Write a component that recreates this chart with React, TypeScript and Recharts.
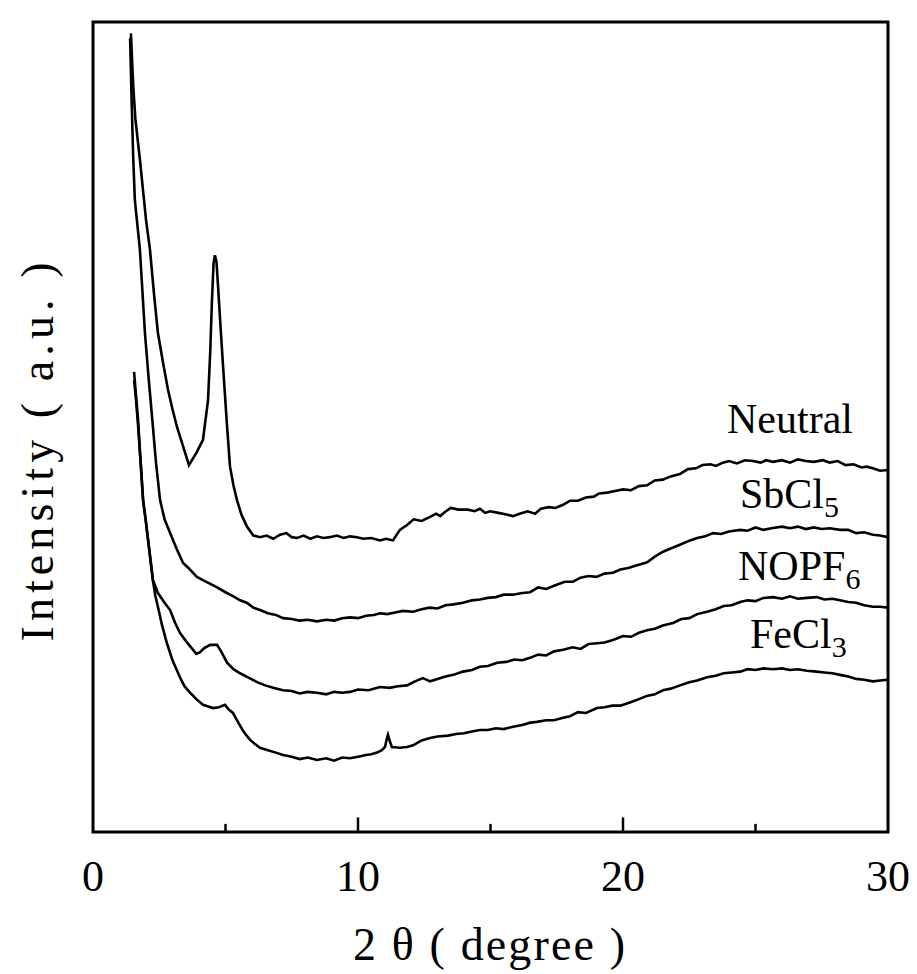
import React from "react";
import {
  LineChart,
  Line,
  XAxis,
  YAxis,
  ReferenceArea,
  ReferenceLine,
  Customized,
} from "recharts";

// 2θ (degree), intensity (a.u., offset stacked)
const neutral: [number, number][] = [
  [1.43, 98.6], [1.52, 92], [1.6, 88], [1.77, 83.0], [2.0, 75.6], [2.15, 71.9], [2.3, 66.5], [2.45, 61.6],
  [2.65, 57.8], [2.83, 54.6], [3.0, 52.2], [3.17, 50.0], [3.4, 47.6], [3.62, 45.3], [3.9, 46.8], [4.15, 48.4],
  [4.34, 53.3], [4.42, 59], [4.49, 65.7], [4.55, 70.2], [4.6, 71.2], [4.66, 70.4], [4.72, 67.3], [4.82, 62],
  [4.91, 57.4], [5.05, 50.5], [5.17, 45.1], [5.3, 42.8], [5.43, 41.0], [5.6, 39.2], [5.81, 37.7], [6.05, 36.6],
  [6.3, 36.4], [6.55, 36.6], [6.8, 36.2], [7.06, 36.7], [7.3, 36.9], [7.5, 36.4], [7.7, 36.3], [7.95, 36.6],
  [8.2, 36.2], [8.45, 36.5], [8.7, 36.3], [8.94, 36.4], [9.2, 36.6], [9.45, 36.3], [9.7, 36.5], [9.96, 36.4],
  [10.2, 36.2], [10.5, 36.3], [10.83, 36.0], [11.05, 36.2], [11.32, 36.0], [11.58, 37.3], [11.85, 37.9], [12.1, 38.6],
  [12.4, 38.4], [12.72, 38.9], [12.95, 39.3], [13.1, 39.0], [13.28, 39.5], [13.5, 40.0], [13.8, 39.8], [14.15, 39.8],
  [14.4, 39.6], [14.6, 39.9], [14.8, 39.4], [14.98, 39.6], [15.3, 39.4], [15.6, 39.2], [15.85, 39.0], [16.1, 39.3],
  [16.4, 39.6], [16.68, 39.3], [16.9, 39.9], [17.2, 40.1], [17.45, 40.0], [17.74, 40.4], [18.0, 40.9], [18.3, 40.9],
  [18.6, 41.3], [18.9, 41.4], [19.1, 41.8], [19.4, 41.9], [19.7, 42.1], [20.0, 42.3], [20.3, 42.2], [20.6, 42.7],
  [20.91, 42.8], [21.2, 43.4], [21.5, 43.5], [21.8, 43.9], [22.15, 44.2], [22.45, 44.8], [22.75, 44.9], [23.0, 45.3],
  [23.3, 45.4], [23.5, 45.2], [23.77, 45.6], [24.0, 45.8], [24.3, 45.5], [24.6, 45.9], [24.9, 45.8], [25.2, 45.6],
  [25.4, 45.9], [25.66, 45.7], [26.0, 45.9], [26.3, 45.6], [26.6, 46.0], [26.9, 45.8], [27.2, 45.7], [27.55, 45.9],
  [27.8, 45.6], [28.1, 45.8], [28.4, 45.3], [28.7, 45.4], [29.0, 45.0], [29.2, 45.1], [29.43, 44.9], [29.7, 44.6],
  [30, 44.7],
];

const sbcl5: [number, number][] = [
  [1.4, 98.0], [1.46, 90], [1.52, 83], [1.58, 78.0], [1.77, 71.9], [1.96, 61.6], [2.1, 56], [2.23, 51.2],
  [2.38, 45.5], [2.53, 41.0], [2.7, 38.6], [2.91, 36.9], [3.15, 35.0], [3.4, 33.2], [3.6, 32.6], [3.92, 31.5],
  [4.2, 31.0], [4.45, 30.6], [4.68, 30.2], [5.0, 29.6], [5.3, 29.1], [5.55, 28.6], [5.8, 28.3], [6.05, 27.7],
  [6.3, 27.4], [6.6, 27.0], [6.9, 26.8], [7.17, 26.4], [7.5, 26.3], [7.8, 26.1], [8.1, 26.2], [8.45, 26.0],
  [8.8, 26.2], [9.1, 26.1], [9.4, 26.4], [9.7, 26.5], [10.0, 26.4], [10.3, 26.7], [10.6, 26.8], [10.83, 27.0],
  [11.1, 26.9], [11.4, 27.1], [11.7, 27.3], [12.08, 27.2], [12.4, 27.5], [12.7, 27.7], [13.0, 27.6], [13.3, 28.0],
  [13.6, 28.1], [13.96, 28.3], [14.3, 28.6], [14.6, 28.7], [14.9, 28.9], [15.2, 29.0], [15.5, 29.3], [15.85, 29.3],
  [16.2, 29.5], [16.49, 29.6], [16.8, 30.2], [17.1, 30.0], [17.4, 30.4], [17.8, 30.9], [18.11, 30.9], [18.4, 31.4],
  [18.7, 31.6], [19.0, 31.5], [19.3, 31.9], [19.62, 32.0], [19.9, 32.4], [20.2, 32.6], [20.5, 32.9], [20.91, 33.3],
  [21.2, 34.0], [21.51, 34.6], [21.8, 35.0], [22.1, 35.4], [22.53, 36.0], [22.8, 36.3], [23.1, 36.5], [23.4, 36.9],
  [23.7, 36.8], [24.0, 37.1], [24.42, 37.3], [24.7, 37.2], [25.0, 37.6], [25.3, 37.3], [25.6, 37.5], [26.0, 37.7],
  [26.3, 37.5], [26.6, 37.7], [26.9, 37.4], [27.2, 37.6], [27.5, 37.4], [27.8, 37.5], [28.19, 37.3], [28.5, 37.3],
  [28.8, 36.9], [29.1, 37.0], [29.43, 36.7], [29.7, 36.6], [30, 36.4],
];

const nopf6: [number, number][] = [
  [1.55, 56.8], [1.62, 54], [1.7, 50.9], [1.8, 45.5], [1.89, 41.0], [2.0, 38.2], [2.08, 36.0], [2.18, 33.3],
  [2.26, 31.1], [2.45, 29.5], [2.7, 28.3], [2.91, 27.4], [3.1, 25.8], [3.28, 24.6], [3.5, 23.6], [3.7, 22.8],
  [3.9, 22.0], [4.04, 22.2], [4.2, 22.7], [4.42, 23.1], [4.68, 23.1], [4.85, 22.2], [5.06, 20.9], [5.3, 20.1],
  [5.55, 19.6], [5.85, 19.1], [6.19, 18.5], [6.5, 18.1], [6.8, 17.8], [7.17, 17.5], [7.5, 17.4], [7.8, 17.1],
  [8.1, 17.3], [8.45, 17.2], [8.8, 17.0], [9.1, 17.3], [9.4, 17.2], [9.7, 17.3], [10.0, 17.6], [10.4, 17.5],
  [10.83, 17.9], [11.2, 17.8], [11.5, 18.0], [11.85, 18.1], [12.15, 18.6], [12.45, 19.0], [12.72, 18.6], [13.0, 18.9],
  [13.3, 19.2], [13.6, 19.4], [13.96, 19.8], [14.3, 20.0], [14.6, 20.4], [14.9, 20.5], [15.25, 20.9], [15.6, 21.0],
  [15.9, 21.3], [16.2, 21.2], [16.49, 21.5], [16.8, 21.9], [17.1, 21.8], [17.4, 22.3], [17.74, 22.5], [18.1, 22.8],
  [18.4, 22.6], [18.7, 23.2], [19.02, 23.3], [19.3, 23.4], [19.62, 23.7], [20.0, 24.2], [20.3, 24.1], [20.6, 24.6],
  [20.91, 24.9], [21.2, 25.1], [21.5, 25.5], [21.89, 25.8], [22.2, 26.3], [22.5, 26.4], [22.8, 26.9], [23.17, 27.2],
  [23.5, 27.5], [23.8, 27.9], [24.1, 28.0], [24.42, 28.4], [24.7, 28.6], [25.0, 28.5], [25.3, 28.9], [25.66, 29.0],
  [26.0, 28.8], [26.3, 29.1], [26.6, 28.8], [26.94, 28.9], [27.3, 29.0], [27.6, 28.7], [27.9, 28.8], [28.19, 28.6],
  [28.5, 28.4], [28.8, 28.3], [29.1, 28.0], [29.43, 27.8], [29.7, 27.8], [30, 27.7],
];

const fecl3: [number, number][] = [
  [1.55, 55.8], [1.62, 53.5], [1.7, 50.2], [1.8, 45.5], [1.89, 41.0], [2.0, 38.2], [2.08, 36.0], [2.18, 33.3],
  [2.26, 31.1], [2.35, 29.2], [2.45, 27.8], [2.6, 25.6], [2.79, 23.3], [3.0, 21.2], [3.28, 19.1], [3.45, 18.0],
  [3.66, 17.2], [3.9, 16.4], [4.15, 15.7], [4.35, 15.5], [4.53, 15.3], [4.75, 15.4], [4.98, 15.7], [5.1, 15.2],
  [5.28, 14.7], [5.5, 13.4], [5.7, 12.3], [5.92, 11.4], [6.1, 10.9], [6.3, 10.4], [6.6, 10.1], [6.9, 9.8],
  [7.17, 9.5], [7.5, 9.3], [7.8, 9.0], [8.1, 9.2], [8.45, 8.9], [8.8, 9.1], [9.1, 8.8], [9.4, 9.2],
  [9.7, 9.1], [10.0, 9.3], [10.3, 9.5], [10.5, 9.6], [10.72, 9.8], [10.9, 10.1], [11.02, 10.5], [11.08, 11.4],
  [11.13, 12.0], [11.2, 11.2], [11.28, 10.5], [11.58, 10.4], [11.85, 10.5], [12.08, 10.7], [12.4, 11.3], [12.72, 11.6],
  [13.0, 11.8], [13.4, 11.9], [13.7, 12.1], [14.0, 12.2], [14.3, 12.4], [14.6, 12.6], [14.9, 12.6], [15.2, 12.8],
  [15.5, 12.7], [15.85, 13.0], [16.2, 13.2], [16.5, 13.5], [16.75, 13.6], [17.1, 13.8], [17.4, 13.8], [17.74, 14.1],
  [18.0, 14.3], [18.3, 14.8], [18.6, 14.7], [19.02, 15.3], [19.3, 15.4], [19.6, 15.6], [19.9, 15.6], [20.26, 16.0],
  [20.6, 16.4], [20.9, 16.8], [21.2, 17.0], [21.51, 17.5], [21.8, 17.7], [22.15, 18.1], [22.5, 18.5], [22.8, 18.7],
  [23.17, 19.1], [23.5, 19.3], [23.8, 19.6], [24.1, 19.7], [24.42, 19.8], [24.7, 20.1], [25.0, 20.0], [25.3, 20.2],
  [25.66, 20.1], [26.0, 20.2], [26.3, 20.0], [26.6, 20.1], [26.94, 19.9], [27.3, 19.8], [27.6, 19.7], [27.9, 19.6],
  [28.19, 19.4], [28.5, 19.2], [28.8, 18.9], [29.1, 18.8], [29.43, 18.6], [29.7, 18.7], [30, 18.8],
];

const xTicks = [0, 10, 20, 30];
const majorMarks = [10, 20];
const minorMarks = [5, 15, 25];

const FONT = "'Liberation Serif', 'DejaVu Serif', serif";

const toRows = (pts: [number, number][]) => pts.map(([x, y]) => ({ x, y }));

const series = [
  { name: "Neutral", data: toRows(neutral) },
  { name: "SbCl5", data: toRows(sbcl5) },
  { name: "NOPF6", data: toRows(nopf6) },
  { name: "FeCl3", data: toRows(fecl3) },
];

const Annotations = () => (
  <g fontFamily={FONT} fill="#000">
    <text x={727} y={433} fontSize={42}>Neutral</text>
    <text x={740} y={508} fontSize={42}>
      SbCl<tspan fontSize={30} dy={9}>5</tspan>
    </text>
    <text x={738} y={580} fontSize={42}>
      NOPF<tspan fontSize={30} dy={9}>6</tspan>
    </text>
    <text x={750} y={648} fontSize={42}>
      FeCl<tspan fontSize={30} dy={9}>3</tspan>
    </text>
    <text
      x={53}
      y={452}
      fontSize={46}
      textAnchor="middle"
      transform="rotate(-90, 53, 452)"
      textLength={379}
      lengthAdjust="spacing"
    >
      Intensity ( a.u. )
    </text>
    <text x={489} y={960} fontSize={46} textAnchor="middle" textLength={272} lengthAdjust="spacing">
      2 θ ( degree )
    </text>
  </g>
);

export default function App() {
  return (
    <div style={{ position: "absolute", left: 0, top: 0, background: "#fff" }}>
      <LineChart
        width={917}
        height={974}
        margin={{ top: 22, right: 29, bottom: 0, left: 93 }}
      >
        <XAxis
          dataKey="x"
          type="number"
          domain={[0, 30]}
          ticks={xTicks}
          axisLine={false}
          tickLine={false}
          height={142}
          tickMargin={22}
          tick={{ fontSize: 44, fill: "#000", fontFamily: FONT }}
          allowDataOverflow
        />
        <YAxis type="number" domain={[0, 100]} hide allowDataOverflow />
        {majorMarks.map((m) => (
          <ReferenceLine
            key={"M" + m}
            segment={[{ x: m, y: 0 }, { x: m, y: 1.8 }]}
            stroke="#000"
            strokeWidth={2.5}
          />
        ))}
        {minorMarks.map((m) => (
          <ReferenceLine
            key={"m" + m}
            segment={[{ x: m, y: 0 }, { x: m, y: 1.0 }]}
            stroke="#000"
            strokeWidth={2.5}
          />
        ))}
        {series.map((s) => (
          <Line
            key={s.name}
            data={s.data}
            dataKey="y"
            type="linear"
            stroke="#000"
            strokeWidth={2.6}
            dot={false}
            isAnimationActive={false}
          />
        ))}
        <ReferenceArea
          x1={0}
          x2={30}
          y1={0}
          y2={100}
          fill="none"
          fillOpacity={0}
          stroke="#000"
          strokeWidth={3}
        />
        <Customized component={Annotations} />
      </LineChart>
    </div>
  );
}
